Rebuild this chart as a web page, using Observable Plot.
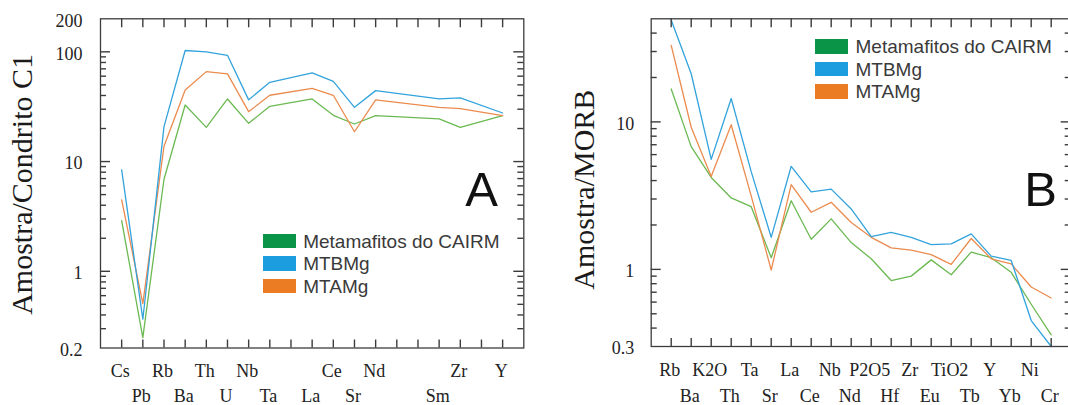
<!DOCTYPE html>
<html><head><meta charset="utf-8">
<script src="https://cdn.jsdelivr.net/npm/d3@7"></script>
<script src="https://cdn.jsdelivr.net/npm/@observablehq/plot@0.6"></script>
<style>
html,body{margin:0;padding:0;background:#fff;overflow:hidden;}
#wrap{position:relative;width:1068px;height:405px;overflow:hidden;background:#fff;}
.panel{position:absolute;top:0;}
.legend{position:absolute;font-family:'Liberation Sans',Arial,sans-serif;font-size:19px;color:#3a3a3a;line-height:1;}
.row{display:flex;align-items:center;height:22.5px;white-space:nowrap;}
.sw{width:33px;height:14.5px;margin-right:7.5px;flex:none;}
</style></head><body><div id="wrap"></div>
<script>
// ---------- data ----------
const seriesNames = ["Metamafitos do CAIRM", "MTBMg", "MTAMg"];
const lineColors = ["#6bb952", "#33a3dc", "#eb8b4f"];
const swatchColors = ["#0a9448", "#1b9de0", "#ec7c23"];

// Panel A (chondrite C1 normalised); "" = unlabeled slot without data
const elementsA = ["Cs","Pb","Rb","Ba","Th","U","Nb","Ta","","La","Ce","Sr","Nd","","","Sm","Zr","","Y"];
const metaA = [2.89, 0.249, 6.9, 32.8, 20.5, 37.2, 22.3, 31.9, null, 37.2, 26.4, 22.0, 26.2, null, null, 24.5, 20.5, null, 26.2];
const mtbA  = [8.4, 0.366, 20.8, 102.8, 100, 93, 36.5, 52.8, null, 64.3, 53.9, 31.2, 44.3, null, null, 37.2, 38.0, null, 27.7];
const mtaA  = [4.47, 0.508, 13.8, 44.8, 66, 63, 28.5, 40.2, null, 46.5, 40.2, 18.7, 36.5, null, null, 31.2, 30.4, null, 26.2];
const yTickLabelsA = [0.2, 1, 10, 100, 200];
const yMajorA = [1, 10, 100];
const yMinorA = [0.3,0.4,0.5,0.6,0.7,0.8,0.9,2,3,4,5,6,7,8,9,20,30,40,50,60,70,80,90];

// Panel B (MORB normalised)
const elementsB = ["Rb","Ba","K2O","Th","Ta","Sr","La","Ce","Nb","Nd","P2O5","Hf","Zr","Eu","TiO2","Tb","Y","Yb","Ni","Cr"];
const metaB = [16.7, 6.8, 4.2, 3.05, 2.66, 1.2, 2.92, 1.6, 2.2, 1.52, 1.18, 0.84, 0.9, 1.16, 0.92, 1.31, 1.2, 0.955, 0.58, 0.36];
const mtbB  = [49, 21.2, 5.57, 14.4, 4.6, 1.65, 5.0, 3.35, 3.5, 2.57, 1.67, 1.78, 1.65, 1.47, 1.49, 1.74, 1.23, 1.15, 0.45, 0.3];
const mtaB  = [33, 9.2, 4.27, 9.57, 3.15, 0.99, 3.75, 2.44, 2.85, 2.08, 1.65, 1.40, 1.35, 1.26, 1.08, 1.62, 1.18, 1.09, 0.76, 0.64];
const yTickLabelsB = [0.3, 1, 10, 50];
const yMajorB = [1, 10];
const yMinorB = [0.4,0.5,0.6,0.7,0.8,0.9,2,3,4,5,6,7,8,9,20,30,40];

// ---------- drawing ----------
const serif = "'Liberation Serif','Times New Roman',serif";
const sans = "'Liberation Sans',Arial,sans-serif";
const frameColor = "#3c3c3c";
const MT = 18.3;

function panel(cfg) {
  const n = cfg.elements.length;
  const idx = d3.range(n);
  const row1 = idx.filter(i => i % 2 === 0 && cfg.elements[i] !== "");
  const row2 = idx.filter(i => i % 2 === 1 && cfg.elements[i] !== "");
  const W = cfg.width - cfg.ml - cfg.mr;
  const H = 405 - MT - cfg.mb;
  const tk = {stroke: frameColor, strokeWidth: 1.4};
  const lines = cfg.series.map((vals, k) => Plot.line(
    idx.filter(i => vals[i] != null).map(i => ({i, v: vals[i]})),
    {x: "i", y: "v", stroke: lineColors[k], strokeWidth: 1.3}
  ));
  return Plot.plot({
    width: cfg.width, height: 405,
    marginLeft: cfg.ml, marginRight: cfg.mr, marginTop: MT, marginBottom: cfg.mb,
    style: {fontFamily: serif, fontSize: "18px", color: "#222", background: "transparent", overflow: "visible"},
    x: {type: "point", domain: idx, padding: 1, round: false, axis: null},
    y: {type: "log", domain: cfg.yDomain, axis: null},
    marks: [
      lines[0], lines[2], lines[1],
      Plot.ruleX(idx, {x: d => d, insetTop: H - 8, ...tk}),
      Plot.ruleX(idx, {x: d => d, insetBottom: H - 9, ...tk}),
      Plot.ruleY(cfg.yMajor, {y: d => d, insetRight: W - 10, ...tk}),
      Plot.ruleY(cfg.yMinor, {y: d => d, insetRight: W - 6, ...tk}),
      Plot.ruleY(cfg.yMajor, {y: d => d, insetLeft: W - 10, ...tk}),
      Plot.ruleY(cfg.yMinor, {y: d => d, insetLeft: W - 6, ...tk}),
      Plot.axisY({anchor: "left", ticks: cfg.yLabels, tickSize: 0, tickPadding: cfg.yPad, dy: 2, tickFormat: d => String(d), fill: "#222", label: null}),
      Plot.axisX({anchor: "bottom", ticks: row1, tickSize: 0, tickPadding: cfg.row1Pad, dx: -1.5, tickFormat: i => cfg.elements[i], fill: "#222", label: null}),
      Plot.axisX({anchor: "bottom", ticks: row2, tickSize: 0, tickPadding: cfg.row2Pad, dx: -1.5, tickFormat: i => cfg.elements[i], fill: "#222", label: null}),
      Plot.frame({stroke: frameColor, strokeWidth: 1.3}),
      Plot.text([cfg.title], {text: d => d, frameAnchor: "left", textAnchor: "middle", lineAnchor: "middle", rotate: -90, dx: cfg.titleDx, dy: cfg.titleDy, fontSize: 30, fontFamily: serif, fill: "#1a1a1a"}),
      Plot.text([cfg.letter], {text: d => d, frameAnchor: "top-left", dx: cfg.letterDx, dy: 152.5, fontSize: 49, fontFamily: sans, fill: "#111", textAnchor: "middle"})
    ]
  });
}

const wrap = document.getElementById("wrap");

const cfgA = {
  elements: elementsA, series: [metaA, mtbA, mtaA], width: 540,
  ml: 100, mr: 16.7, mb: 57.5, yDomain: [0.2, 200],
  yMajor: yMajorA, yMinor: yMinorA, yLabels: yTickLabelsA, yPad: 18,
  row1Pad: 16.5, row2Pad: 41.5, title: "Amostra/Condrito C1", titleDx: -78, titleDy: 1,
  letter: "A", letterDx: 381
};
const cfgB = {
  elements: elementsB, series: [metaB, mtbB, mtaB], width: 540,
  ml: 110.7, mr: 9.3, mb: 59, yDomain: [0.3, 50],
  yMajor: yMajorB, yMinor: yMinorB, yLabels: yTickLabelsB, yPad: 17,
  row1Pad: 17, row2Pad: 43, title: "Amostra/MORB", titleDx: -66.7, titleDy: 7,
  letter: "B", letterDx: 389.3
};

[[cfgA, 0], [cfgB, 540]].forEach(([cfg, left]) => {
  const svg = panel(cfg);
  svg.classList.add("panel");
  svg.style.left = left + "px";
  wrap.appendChild(svg);
});

function legend(left, top) {
  const div = document.createElement("div");
  div.className = "legend";
  div.style.left = left + "px";
  div.style.top = top + "px";
  seriesNames.forEach((name, k) => {
    const row = document.createElement("div");
    row.className = "row";
    const sw = document.createElement("div");
    sw.className = "sw";
    sw.style.background = swatchColors[k];
    const t = document.createElement("span");
    t.textContent = name;
    row.appendChild(sw); row.appendChild(t);
    div.appendChild(row);
  });
  wrap.appendChild(div);
}
legend(262.7, 229.8);
legend(815, 35.4);
</script></body></html>
